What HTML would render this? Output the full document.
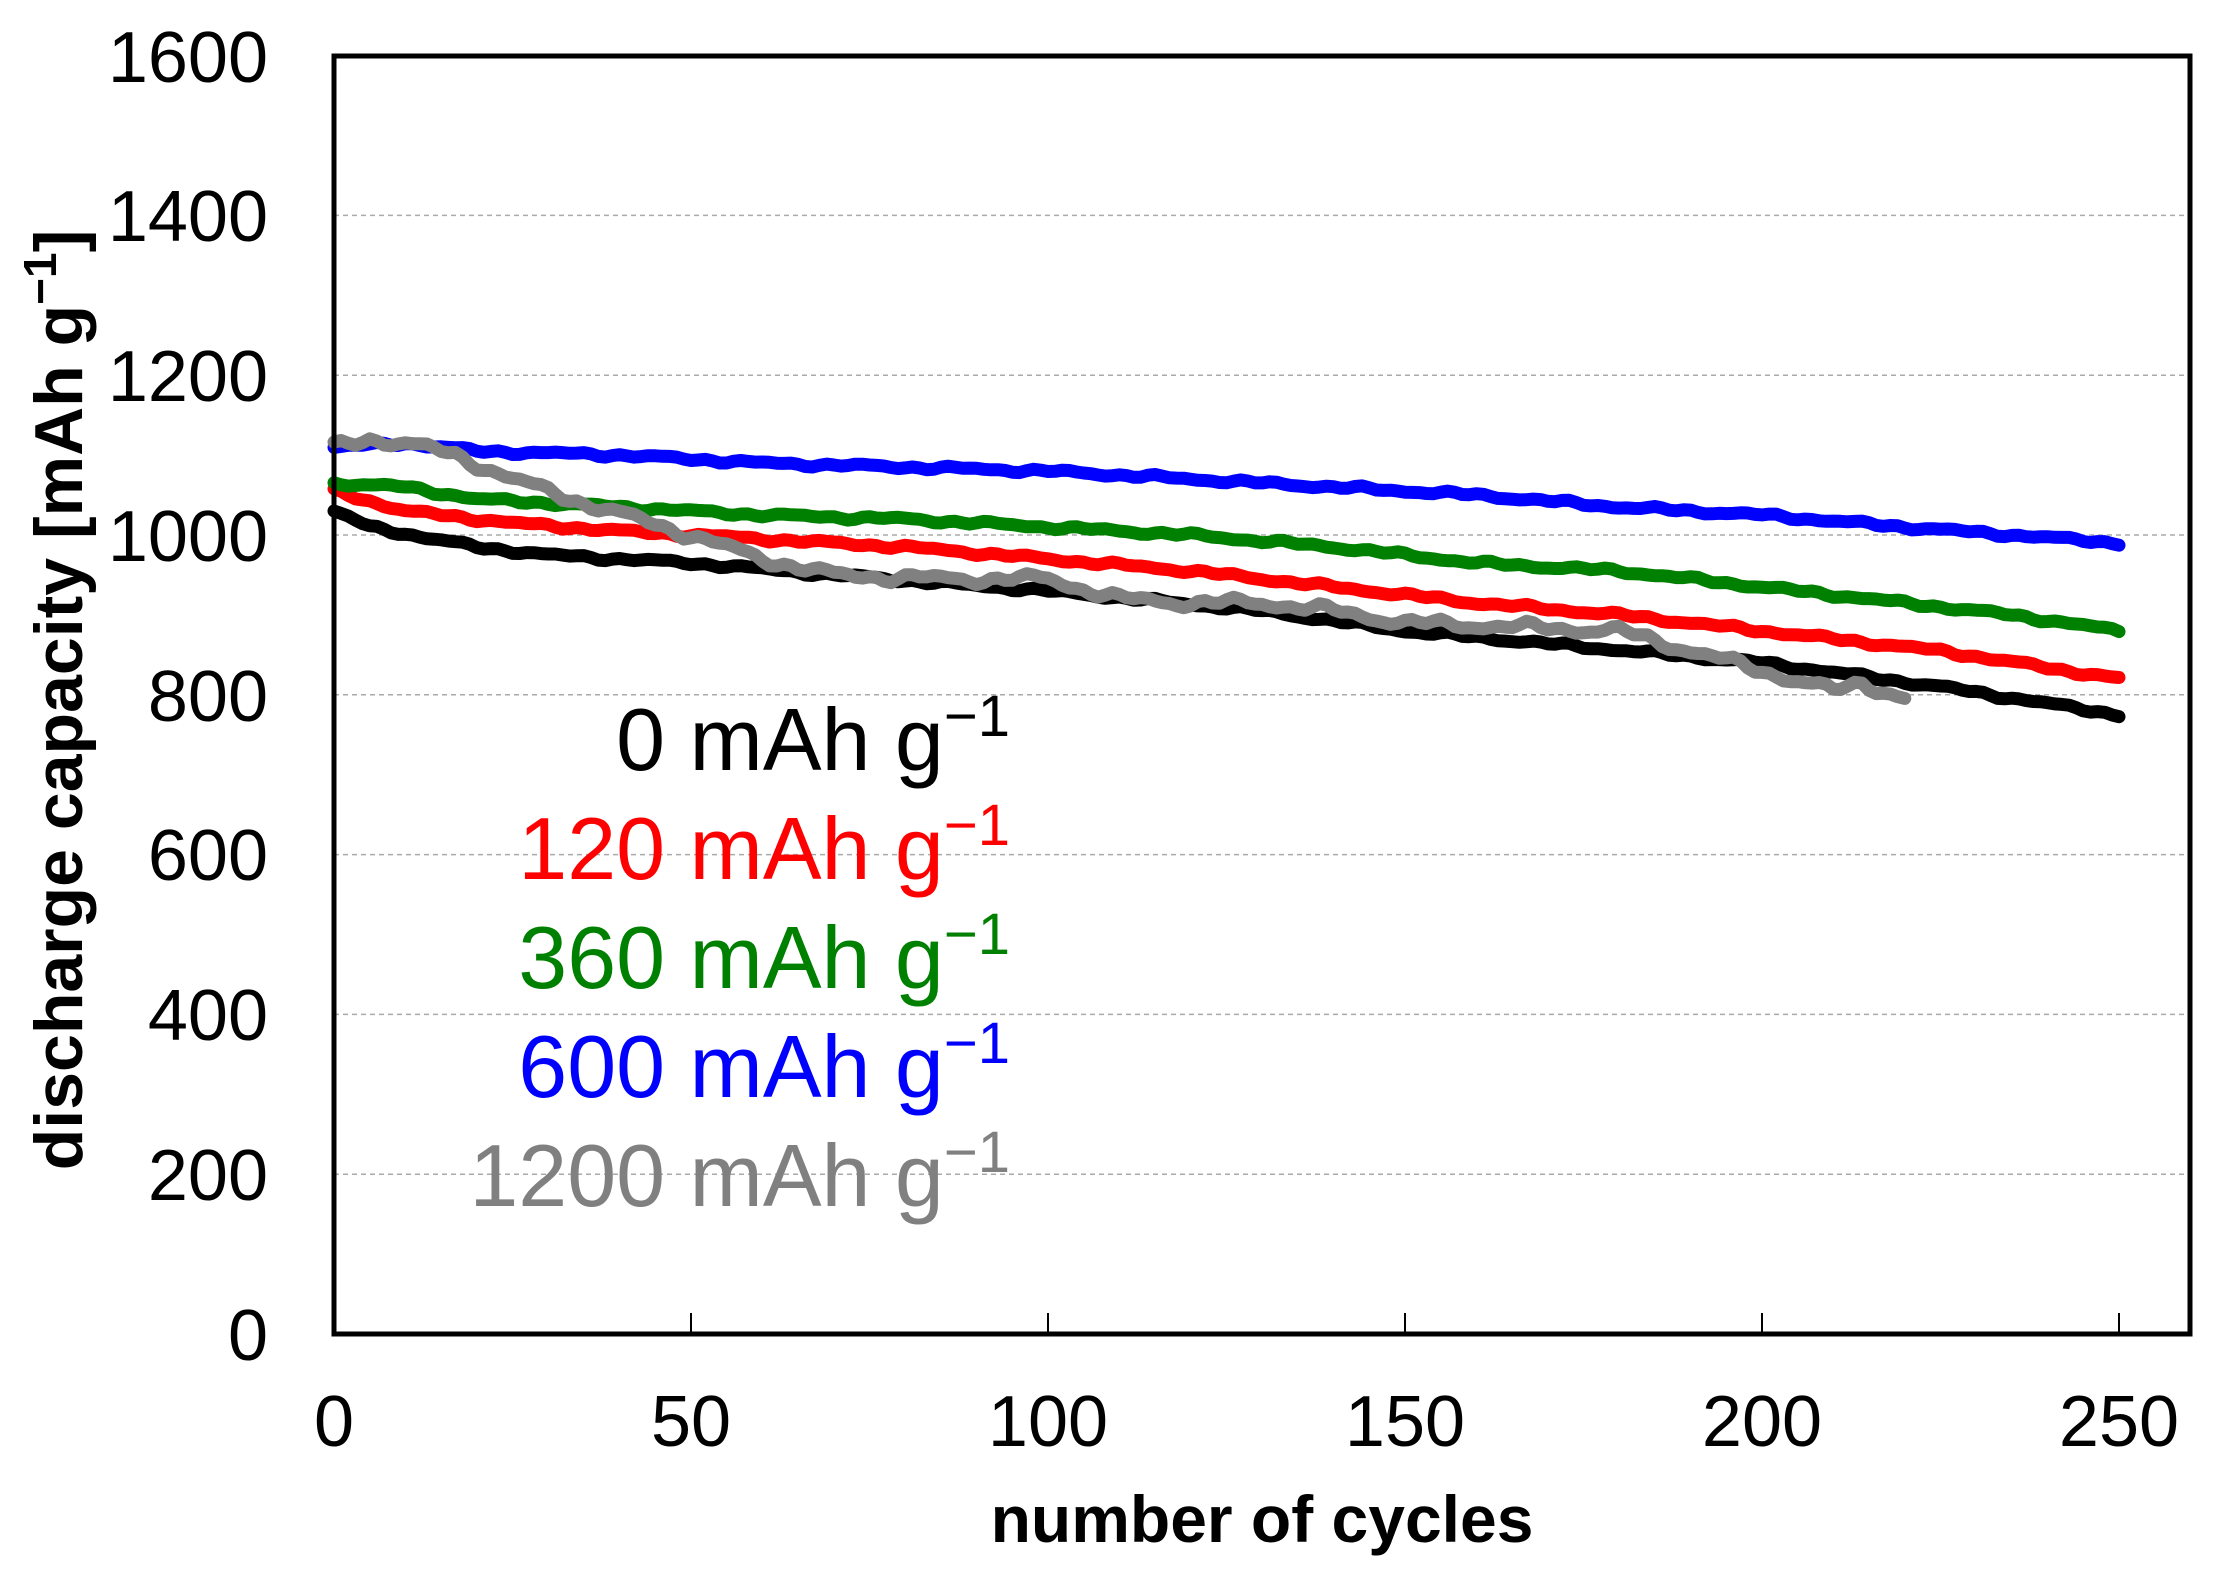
<!DOCTYPE html>
<html><head><meta charset="utf-8"><style>
html,body{margin:0;padding:0;background:#fff;}
svg{display:block;font-family:"Liberation Sans",sans-serif;}
</style></head><body>
<svg id="s" width="2213" height="1578" viewBox="0 0 2213 1578" xmlns="http://www.w3.org/2000/svg">
<g stroke="#aaa" stroke-width="1.5" stroke-dasharray="5,4">
<line x1="334" x2="2190" y1="1174.2" y2="1174.2"/>
<line x1="334" x2="2190" y1="1014.4" y2="1014.4"/>
<line x1="334" x2="2190" y1="854.6" y2="854.6"/>
<line x1="334" x2="2190" y1="694.8" y2="694.8"/>
<line x1="334" x2="2190" y1="535" y2="535"/>
<line x1="334" x2="2190" y1="375.2" y2="375.2"/>
<line x1="334" x2="2190" y1="215.4" y2="215.4"/>
</g>
<g stroke="#000" stroke-width="2">
<line x1="691" x2="691" y1="1334" y2="1313"/>
<line x1="1048" x2="1048" y1="1334" y2="1313"/>
<line x1="1405" x2="1405" y1="1334" y2="1313"/>
<line x1="1762" x2="1762" y1="1334" y2="1313"/>
<line x1="2119" x2="2119" y1="1334" y2="1313"/>
</g>
<g id="series" fill="none" stroke-width="13" stroke-linejoin="round" stroke-linecap="round"></g>
<rect x="334" y="56" width="1856" height="1278" fill="none" stroke="#000" stroke-width="5"/>
<g font-size="72" text-anchor="end" fill="#000">
<text x="268" y="1360">0</text>
<text x="268" y="1200">200</text>
<text x="268" y="1040">400</text>
<text x="268" y="880">600</text>
<text x="268" y="721">800</text>
<text x="268" y="561">1000</text>
<text x="268" y="401">1200</text>
<text x="268" y="241">1400</text>
<text x="268" y="82">1600</text>
</g>
<g font-size="72" text-anchor="middle" fill="#000">
<text x="334" y="1446">0</text>
<text x="691" y="1446">50</text>
<text x="1048" y="1446">100</text>
<text x="1405" y="1446">150</text>
<text x="1762" y="1446">200</text>
<text x="2119" y="1446">250</text>
</g>
<text x="1262" y="1542" font-size="66" font-weight="bold" text-anchor="middle">number of cycles</text>
<text transform="translate(82,700) rotate(-90)" font-size="68" font-weight="bold" text-anchor="middle">discharge capacity  [mAh g<tspan font-size="46" dy="-26">−1</tspan><tspan dy="26">]</tspan></text>
<g font-size="88" text-anchor="end">
<text x="1010" y="770" fill="#000">0 mAh g<tspan font-size="58" dy="-34">−1</tspan></text>
<text x="1010" y="879" fill="#f00">120 mAh g<tspan font-size="58" dy="-34">−1</tspan></text>
<text x="1010" y="988" fill="#008000">360 mAh g<tspan font-size="58" dy="-34">−1</tspan></text>
<text x="1010" y="1097" fill="#00f">600 mAh g<tspan font-size="58" dy="-34">−1</tspan></text>
<text x="1010" y="1206" fill="#808080">1200 mAh g<tspan font-size="58" dy="-34">−1</tspan></text>
</g>
</svg>
<script>
var S=[
["#000",[[0,1030],[5,1010],[20,985],[30,975],[50,965],[70,950],[100,930],[130,905],[150,880],[175,860],[200,840],[225,810],[250,775]],250],
["#f00",[[0,1055],[10,1030],[25,1015],[40,1005],[60,995],[80,985],[100,970],[120,955],[140,935],[160,915],[180,900],[200,880],[225,855],[250,820]],250],
["#008000",[[0,1065],[10,1060],[20,1045],[40,1035],[60,1025],[80,1020],[100,1010],[120,1000],[140,985],[160,965],[180,955],[200,935],[220,915],[235,900],[250,880]],250],
["#00f",[[0,1110],[10,1115],[20,1105],[40,1100],[60,1090],[80,1085],[100,1080],[120,1070],[140,1060],[160,1050],[180,1035],[200,1025],[220,1010],[235,1000],[250,990]],250],
["#808080",[[0,1110],[5,1120],[10,1115],[17,1100],[25,1070],[35,1040],[50,1000],[60,970],[70,950],[85,945],[100,945],[110,920],[120,915],[130,915],[140,905],[150,890],[165,885],[180,880],[190,855],[200,830],[210,805],[214,815],[220,795]],220]
];
function interp(p,c){for(var i=1;i<p.length;i++){if(c<=p[i][0]){var a=p[i-1],b=p[i];return a[1]+(b[1]-a[1])*(c-a[0])/(b[0]-a[0]);}}return p[p.length-1][1];}
var g=document.getElementById('series');
S.forEach(function(s,k){var pts=[];for(var c=0;c<=s[2];c+=1){var v=interp(s[1],c)+(k==4?4:2)*Math.sin(c*1.3+k)*Math.sin(c*0.21+k)+(k==4?4:1.5)*Math.sin(c*0.45+k*2);pts.push((334+7.14*c).toFixed(1)+","+(1334-0.799*v).toFixed(1));}
var pl=document.createElementNS("http://www.w3.org/2000/svg","polyline");pl.setAttribute("points",pts.join(" "));pl.setAttribute("stroke",s[0]);g.appendChild(pl);});
</script>
</body></html>
